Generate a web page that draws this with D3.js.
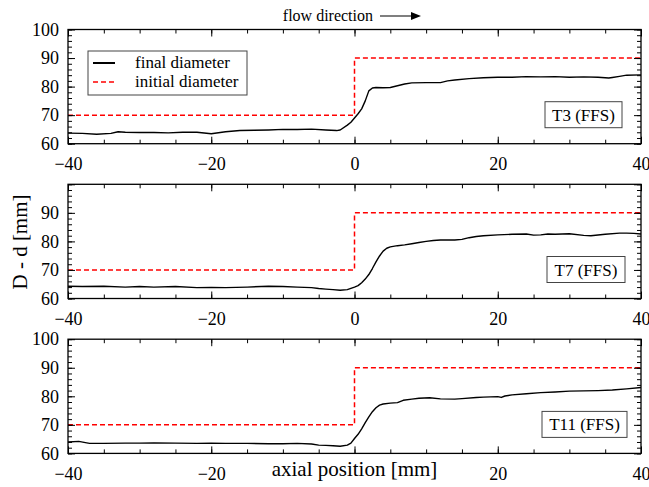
<!DOCTYPE html>
<html>
<head>
<meta charset="utf-8">
<script src="https://cdn.jsdelivr.net/npm/d3@7"></script>
<style>
  html, body { margin: 0; padding: 0; background: #fff; }
  svg { display: block; }
  text { font-family: "Liberation Serif", "DejaVu Serif", serif; fill: #000; }
</style>
</head>
<body>
<svg id="chart" width="649" height="487"></svg>
<script>
// ---------- data ----------
const panelNames = ["T3 (FFS)", "T7 (FFS)", "T11 (FFS)"];
const seriesNames = ["final diameter", "initial diameter"];

const xTickLabels = [-40, -20, 0, 20, 40];
const yTickLabels = [60, 70, 80, 90, 100];

// initial diameter (step at x = 0)
const initX = [-40, 0, 0, 40];
const initD = [70, 70, 90, 90];

// final diameter, T3
const t3X = [-40,-38,-36,-34,-33,-32,-30,-28,-26,-24,-22,-20,-18,-16,-14,-12,-10,-8,-6,-4,-2.5,-2,-1,-0.5,0,0.5,1,1.5,2,2.5,3,4,5,6,7,8,10,12,13,14,16,18,20,22,24,26,28,30,32,34,35.5,36,37,38,40];
const t3D = [63.7,63.6,63.3,63.6,64.2,64.0,63.9,63.9,63.8,64.0,64.0,63.5,64.2,64.6,64.7,64.8,65.0,65.0,65.1,64.8,64.6,64.8,66.5,67.5,69.0,70.5,72.2,75.0,78.5,79.5,79.7,79.6,79.7,80.3,80.9,81.3,81.4,81.4,82.0,82.3,82.8,83.1,83.3,83.3,83.5,83.4,83.5,83.3,83.4,83.3,83.0,83.2,83.6,84.0,84.1];

// final diameter, T7
const t7X = [-40,-38,-35,-32,-30,-28,-25,-22,-20,-18,-15,-12,-10,-8,-6,-5,-4,-3,-2,-1,0,0.5,1,1.5,2,2.5,3,3.5,4,4.5,5,6,7,8,9,10,11,12,14,15,16,17,18,20,22,24,25,26,27,28,30,32,33,35,37,38,39,40];
const t7D = [64.3,64.2,64.3,64.0,64.2,64.0,64.2,63.8,63.9,63.8,64.0,64.3,64.2,64.0,63.8,63.5,63.3,63.1,62.9,63.1,64.0,64.5,65.5,66.8,68.4,70.5,72.8,74.9,76.6,77.6,78.1,78.5,78.8,79.2,79.6,80.0,80.3,80.5,80.5,80.7,81.3,81.7,82.0,82.3,82.5,82.6,82.2,82.3,82.6,82.5,82.7,82.1,82.0,82.5,82.9,82.9,82.8,82.6];

// final diameter, T11
const t11X = [-40,-38.5,-37,-35,-32,-30,-28,-25,-22,-20,-18,-15,-12,-10,-8,-6,-5,-4,-3,-2,-1,-0.5,0,0.5,1,1.5,2,2.5,3,3.5,4,5,6,6.8,8,9,10.5,12,14,15,17,18,20,20.5,21,22,24,26,28,30,32,34,36,38,40];
const t11D = [64.0,64.2,63.5,63.5,63.6,63.6,63.7,63.6,63.5,63.6,63.5,63.5,63.4,63.4,63.5,63.3,62.9,62.8,62.7,62.5,62.9,63.6,65.2,66.7,68.6,70.8,72.8,74.6,76.0,76.9,77.3,77.6,77.8,78.6,79.0,79.3,79.5,79.1,79.0,79.2,79.6,79.7,79.9,79.6,80.1,80.5,80.9,81.3,81.5,81.8,81.9,82.0,82.2,82.6,83.1];

const finals = [[t3X, t3D], [t7X, t7D], [t11X, t11D]];

// ---------- layout ----------
const svg = d3.select("#chart");
const left = 68, right = 641;
const panelTops = [29.5, 184.3, 339.2];
const panelH = 114.2;

const x = d3.scaleLinear().domain([-40, 40]).range([left, right]);
const fontTick = 18;

panelTops.forEach((top, i) => {
  const y = d3.scaleLinear().domain([60, 100]).range([top + panelH, top]);
  const g = svg.append("g");

  // initial diameter (red dashed)
  const lineInit = d3.line().x((d, k) => x(initX[k])).y(d => y(d));
  g.append("path")
    .datum(initD)
    .attr("d", lineInit)
    .attr("fill", "none")
    .attr("stroke", "#ff0000")
    .attr("stroke-width", 1.5)
    .attr("stroke-dasharray", "5,3");

  // final diameter (black)
  const [fx, fd] = finals[i];
  const lineFinal = d3.line().x((d, k) => x(fx[k])).y(d => y(d));
  g.append("path")
    .datum(fd)
    .attr("d", lineFinal)
    .attr("fill", "none")
    .attr("stroke", "#000")
    .attr("stroke-width", 1.4)
    .attr("stroke-linejoin", "round");

  // axes (inward ticks on all four sides)
  const xMinor = d3.range(-40, 41, 5);
  const yMinor = d3.range(60, 101, 2);
  const style = sel => {
    sel.attr("font-family", null).attr("font-size", null);
    sel.select(".domain").remove();
    sel.selectAll("line").attr("stroke", "#000").attr("stroke-width", 1);
    sel.selectAll("text").style("font-size", fontTick + "px")
      .style("font-family", '"Liberation Serif", serif');
  };

  // bottom
  g.append("g").attr("transform", `translate(0,${top + panelH})`)
    .call(d3.axisBottom(x).tickValues(xMinor).tickSize(-4).tickFormat(""))
    .call(style);
  const xLabels = (i === 2) ? xTickLabels.filter(v => v !== 0) : xTickLabels;
  g.append("g").attr("transform", `translate(0,${top + panelH})`)
    .call(d3.axisBottom(x).tickValues(xTickLabels).tickSize(-7).tickPadding(14)
      .tickFormat(v => xLabels.includes(v) ? d3.format("")(v) : ""))
    .call(style);
  // top
  g.append("g").attr("transform", `translate(0,${top})`)
    .call(d3.axisTop(x).tickValues(xMinor).tickSize(-4).tickFormat(""))
    .call(style);
  g.append("g").attr("transform", `translate(0,${top})`)
    .call(d3.axisTop(x).tickValues(xTickLabels).tickSize(-7).tickFormat(""))
    .call(style);
  // left
  const yLabels = (i === 1) ? yTickLabels.filter(v => v !== 100) : yTickLabels;
  g.append("g").attr("transform", `translate(${left},0)`)
    .call(d3.axisLeft(y).tickValues(yMinor).tickSize(-4).tickFormat(""))
    .call(style);
  g.append("g").attr("transform", `translate(${left},0)`)
    .call(d3.axisLeft(y).tickValues(yTickLabels).tickSize(-7).tickPadding(9)
      .tickFormat(v => yLabels.includes(v) ? String(v) : ""))
    .call(style);
  // right
  g.append("g").attr("transform", `translate(${right},0)`)
    .call(d3.axisRight(y).tickValues(yMinor).tickSize(-4).tickFormat(""))
    .call(style);
  g.append("g").attr("transform", `translate(${right},0)`)
    .call(d3.axisRight(y).tickValues(yTickLabels).tickSize(-7).tickFormat(""))
    .call(style);

  // frame
  g.append("rect")
    .attr("x", left).attr("y", top)
    .attr("width", right - left).attr("height", panelH)
    .attr("fill", "none").attr("stroke", "#000").attr("stroke-width", 1.3);

  // panel label box
  const bw = [77, 78, 85][i];
  const bx = [545, 547, 542][i];
  const by = top + panelH - 42;
  g.append("rect")
    .attr("x", bx).attr("y", by).attr("width", bw).attr("height", 26)
    .attr("fill", "#fff").attr("stroke", "#444").attr("stroke-width", 1);
  g.append("text")
    .attr("x", bx + bw / 2).attr("y", by + 19)
    .attr("text-anchor", "middle")
    .style("font-size", "17px")
    .text(panelNames[i]);
});

// legend (first panel)
const lg = svg.append("g");
lg.append("rect").attr("x", 88).attr("y", 51).attr("width", 159).attr("height", 44)
  .attr("fill", "#fff").attr("stroke", "#444").attr("stroke-width", 1);
lg.append("line").attr("x1", 93).attr("x2", 115).attr("y1", 63).attr("y2", 63)
  .attr("stroke", "#000").attr("stroke-width", 2);
lg.append("line").attr("x1", 93).attr("x2", 115).attr("y1", 82).attr("y2", 82)
  .attr("stroke", "#ff0000").attr("stroke-width", 1.5).attr("stroke-dasharray", "5,3");
lg.append("text").attr("x", 135).attr("y", 68).style("font-size", "17px").text(seriesNames[0]);
lg.append("text").attr("x", 135).attr("y", 87).style("font-size", "17px").text(seriesNames[1]);

// flow direction annotation
svg.append("text").attr("x", 373).attr("y", 21).attr("text-anchor", "end")
  .style("font-size", "16px").text("flow direction");
svg.append("line").attr("x1", 380).attr("x2", 413).attr("y1", 16).attr("y2", 16)
  .attr("stroke", "#000").attr("stroke-width", 1.2);
svg.append("path").attr("d", "M421,16 L411,12 L411,20 Z").attr("fill", "#000");

// axis titles
svg.append("text").attr("transform", "translate(27,242) rotate(-90)")
  .attr("text-anchor", "middle").style("font-size", "21px").text("D - d [mm]");
svg.append("text").attr("x", x(0)).attr("y", 476)
  .attr("text-anchor", "middle").style("font-size", "21px").text("axial position [mm]");
</script>
</body>
</html>
